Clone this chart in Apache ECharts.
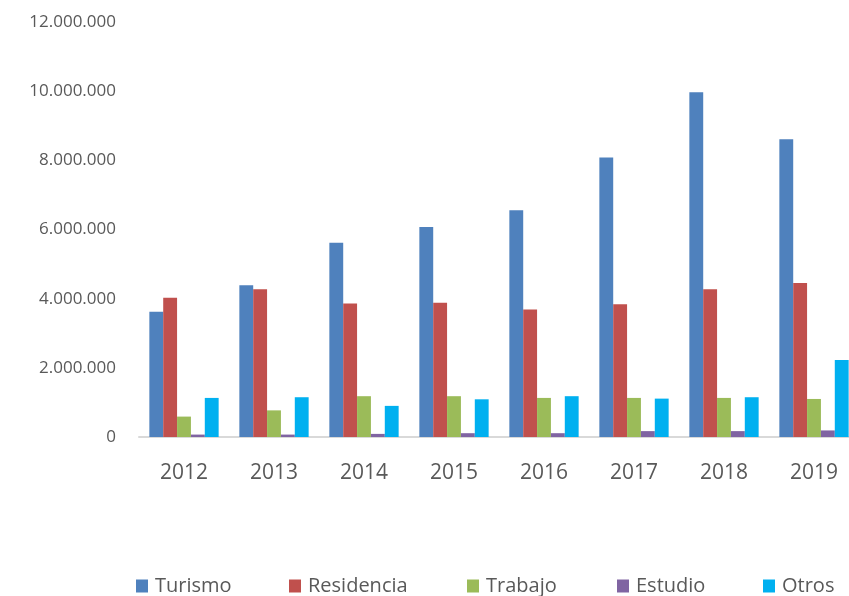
<!DOCTYPE html>
<html>
<head>
<meta charset="utf-8">
<script src="https://cdn.jsdelivr.net/npm/echarts@6/dist/echarts.min.js"></script>
<style>
  html, body { margin: 0; padding: 0; background: #fff; }
  #chart { width: 849px; height: 596px; }
</style>
</head>
<body>
<div id="chart"></div>
<script>
const years = ['2012', '2013', '2014', '2015', '2016', '2017', '2018', '2019'];
const turismo = [3620000, 4390000, 5620000, 6070000, 6560000, 8080000, 9970000, 8610000];
const residencia = [4030000, 4270000, 3860000, 3880000, 3690000, 3840000, 4270000, 4450000];
const trabajo = [590000, 770000, 1180000, 1180000, 1130000, 1130000, 1130000, 1100000];
const estudio = [70000, 70000, 90000, 110000, 110000, 170000, 170000, 190000];
const otros = [1130000, 1150000, 900000, 1090000, 1180000, 1110000, 1150000, 2230000];
const yTicks = [0, 2000000, 4000000, 6000000, 8000000, 10000000, 12000000];
const seriesNames = ['Turismo', 'Residencia', 'Trabajo', 'Estudio', 'Otros'];

const colors = ['#4f81bd', '#c0504d', '#9bbb59', '#8064a2', '#00b0f0'];
const legendLeft = [131, 284, 462, 612, 758];
const textColor = '#595959';
const font = '"Open Sans", sans-serif';

function fmt(v) {
  return String(v).replace(/\B(?=(\d{3})+(?!\d))/g, '.');
}

const chart = echarts.init(document.getElementById('chart'), null, { renderer: 'canvas' });

function bar(name, data, color) {
  return {
    name: name,
    type: 'bar',
    data: data,
    itemStyle: { color: color },
    barGap: '0%',
    barCategoryGap: '23%',
  };
}

// one legend per item so each sits where the reference puts it
const legends = seriesNames.map((name, i) => ({
  left: legendLeft[i],
  top: 571,
  itemWidth: 12,
  itemHeight: 13,
  itemGap: 0,
  icon: 'rect',
  textStyle: { fontFamily: font, fontSize: 20, color: textColor, padding: [0, 0, 0, 2] },
  data: [name],
}));

chart.setOption({
  animation: false,
  color: colors,
  textStyle: { fontFamily: font, color: textColor },
  grid: { left: 139, top: 22, width: 720, height: 415, outerBoundsMode: 'none', containLabel: false },
  legend: legends,
  xAxis: {
    type: 'category',
    data: years,
    axisLine: { show: true, lineStyle: { color: '#d9d9d9', width: 2 } },
    axisTick: { show: false },
    axisLabel: { fontFamily: font, fontSize: 21, color: textColor, margin: 26 },
  },
  yAxis: {
    type: 'value',
    min: yTicks[0],
    max: yTicks[yTicks.length - 1],
    interval: 2000000,
    splitLine: { show: false },
    axisLine: { show: false },
    axisTick: { show: false },
    axisLabel: {
      fontFamily: font,
      fontSize: 17,
      color: textColor,
      margin: 23,
      formatter: fmt,
    },
  },
  series: [
    bar('Turismo', turismo, colors[0]),
    bar('Residencia', residencia, colors[1]),
    bar('Trabajo', trabajo, colors[2]),
    bar('Estudio', estudio, colors[3]),
    bar('Otros', otros, colors[4]),
  ],
});
</script>
</body>
</html>
